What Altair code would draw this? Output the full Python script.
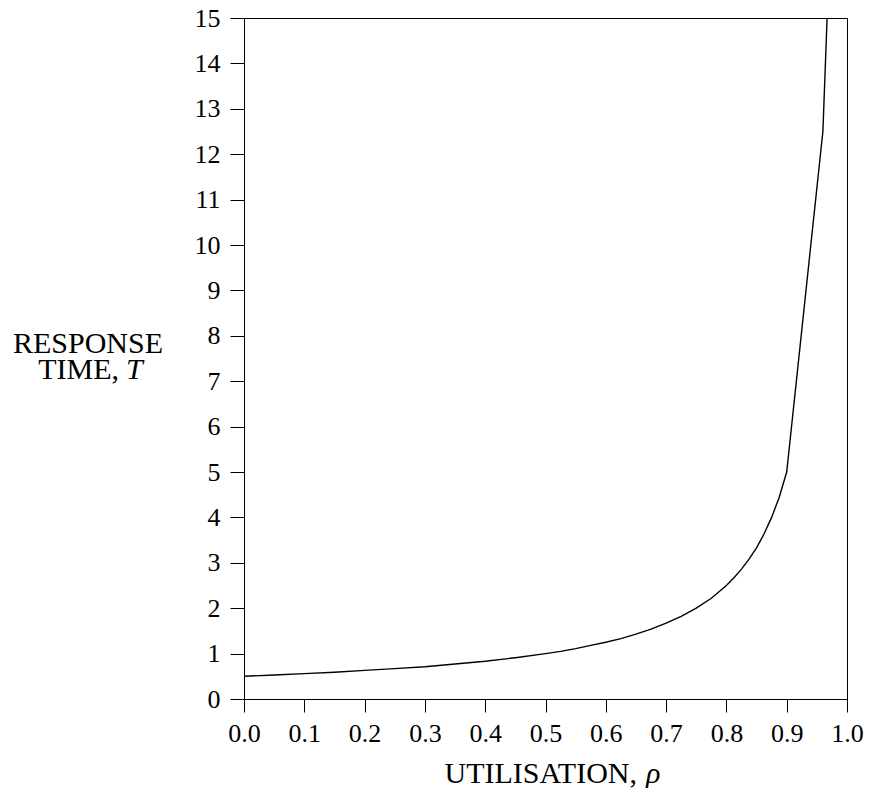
import altair as alt
import pandas as pd

# Data
rho = [0.0, 0.05, 0.10, 0.15, 0.20, 0.25, 0.30, 0.35, 0.40, 0.45, 0.50,
       0.525, 0.55, 0.575, 0.60, 0.625, 0.65, 0.675, 0.70, 0.725, 0.75, 0.775,
       0.80, 0.8125, 0.825, 0.8375, 0.85, 0.8625, 0.875, 0.8875, 0.90,
       0.96, 0.967]
resp = [0.50, 0.53, 0.56, 0.59, 0.63, 0.67, 0.71, 0.77, 0.83, 0.91, 1.00,
        1.05, 1.11, 1.18, 1.25, 1.33, 1.43, 1.54, 1.67, 1.82, 2.00, 2.22,
        2.50, 2.67, 2.86, 3.08, 3.33, 3.64, 4.00, 4.44, 5.00,
        12.5, 15.0]

x_ticks = [0.0, 0.1, 0.2, 0.3, 0.4, 0.5, 0.6, 0.7, 0.8, 0.9, 1.0]
y_ticks = list(range(0, 16))

df = pd.DataFrame({"rho": rho, "T": resp})
one = pd.DataFrame({"k": [0]})

FONT = "Liberation Serif"

line = alt.Chart(df).mark_line(color="black", strokeWidth=1.4, clip=True).encode(
    x=alt.X("rho:Q", scale=alt.Scale(domain=[0, 1], nice=False, zero=False),
            axis=alt.Axis(values=x_ticks, format=".1f", title=None,
                          labelFontSize=26, tickSize=13, labelPadding=8,
                          labelFlush=False)),
    y=alt.Y("T:Q", scale=alt.Scale(domain=[0, 15], nice=False),
            axis=alt.Axis(values=y_ticks, format="d", title=None,
                          labelFontSize=26, tickSize=14, labelPadding=10,
                          labelFlush=False)),
)

def label(text, x, y, align="center", italic=False, size=30):
    return alt.Chart(one).mark_text(
        text=text, font=FONT, fontSize=size, align=align, baseline="alphabetic",
        fontStyle="italic" if italic else "normal", color="black",
    ).encode(x=alt.value(x), y=alt.value(y))

titles = [
    label("RESPONSE", -156, 335),
    label("TIME,", -125, 361, align="right"),
    label("T", -118, 361, align="left", italic=True),
    label("UTILISATION,", 393, 765, align="right"),
    label("ρ", 402, 765, align="left", italic=True),
]

chart = alt.layer(line, *titles).properties(
    width=603, height=681,
    autosize=alt.AutoSizeParams(type="none"),
    padding={"left": 236, "top": 10, "right": 17, "bottom": 89},
).configure_view(stroke="black", strokeWidth=1).configure_axis(
    grid=False, domainColor="black", domainWidth=1, tickColor="black",
    tickWidth=1, labelColor="black", labelFont=FONT,
)

chart.save("out.html", embed_options={"renderer": "svg", "actions": False})
